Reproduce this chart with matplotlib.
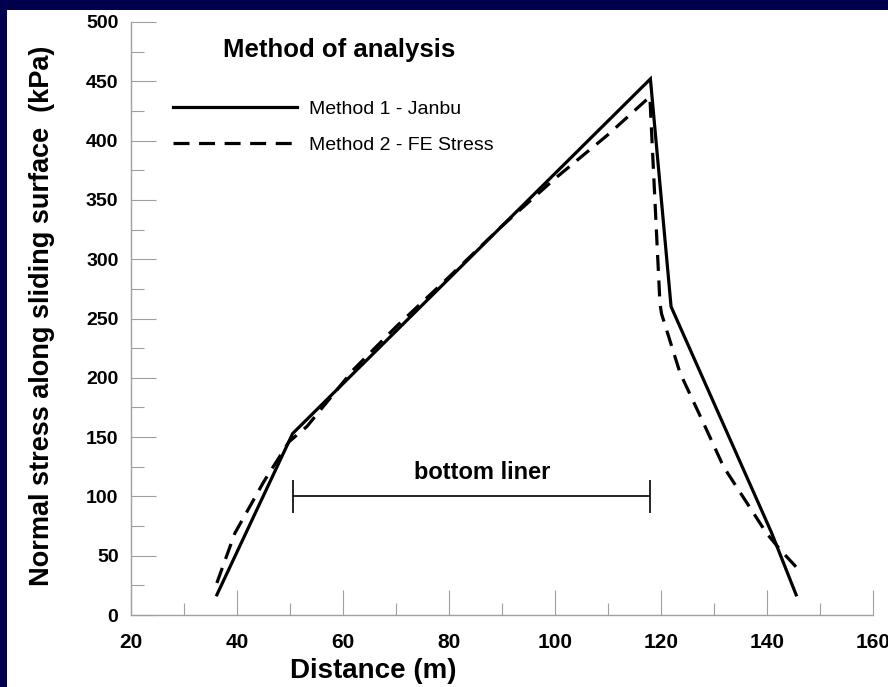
import matplotlib
matplotlib.use('Agg')
import matplotlib.pyplot as plt
from matplotlib.ticker import MultipleLocator
from matplotlib.patches import Rectangle

# Normal stress along the sliding surface, two methods
dist_janbu = [36.2, 50.5, 118.0, 121.9, 140.8, 145.5]
stress_janbu = [17, 153, 452, 260, 70, 17]

dist_fe = [36.2, 39.6, 45.0, 49.8, 53.2, 62.0, 70.0, 80.0, 90.0, 100.0, 110.0,
           117.9, 119.8, 120.1, 123.6, 128.0, 131.8, 139.9, 142.5, 145.6]
stress_fe = [27, 69, 112, 146, 159, 207, 243, 285, 328, 368, 405,
             437, 263, 254, 204, 162, 125, 69, 55, 40]

# extent of the bottom liner
liner_x = [50.6, 117.9]
liner_y = 100

navy = '#00004c'
gray = '#a0a0a0'
font = 'Liberation Sans'

plt.rcParams['font.family'] = font
plt.rcParams['font.weight'] = 'bold'

fig = plt.figure(figsize=(8.88, 6.87), dpi=100, facecolor=navy)
# white slide panel behind the axes
fig.patches.append(Rectangle((7 / 888, 0), 1, 1 - 10 / 687, transform=fig.transFigure,
                             facecolor='white', edgecolor='none', zorder=-10))

ax = fig.add_axes([131 / 888, 1 - 615 / 687, 742 / 888, 593 / 687])
ax.set_facecolor('none')

ax.plot(dist_janbu, stress_janbu, color='black', lw=2.3, label='Method 1 - Janbu',
        solid_joinstyle='miter')
ax.plot(dist_fe, stress_fe, color='black', lw=2.3, linestyle=(0, (5, 3)),
        label='Method 2 - FE Stress')

# bottom liner bracket
ax.hlines(liner_y, liner_x[0], liner_x[1], color='black', lw=1.2)
ax.vlines(liner_x, liner_y - 14, liner_y + 14, color='black', lw=1.2)
ax.text(86.2, 120.5, 'bottom liner', ha='center', va='center',
        fontsize=17, fontweight='bold')

ax.set_xlim(20, 160)
ax.set_ylim(0, 500)
ax.xaxis.set_major_locator(MultipleLocator(20))
ax.xaxis.set_minor_locator(MultipleLocator(10))
ax.yaxis.set_major_locator(MultipleLocator(50))
ax.yaxis.set_minor_locator(MultipleLocator(25))

for s in ['top', 'right']:
    ax.spines[s].set_visible(False)
for s in ['left', 'bottom']:
    ax.spines[s].set_color(gray)
    ax.spines[s].set_linewidth(1)

ax.tick_params(which='major', direction='in', length=18, width=0.8, color=gray)
ax.tick_params(which='minor', direction='in', length=9, width=0.8, color=gray)
ax.tick_params(axis='y', which='major', pad=9, labelsize=14)
ax.tick_params(axis='x', which='major', pad=13, labelsize=15)

ax.set_xlabel('Distance (m)', fontsize=20, fontweight='bold', va='center')
ax.xaxis.set_label_coords(0.327, -0.094)
ax.set_ylabel('Normal stress along sliding surface  (kPa)', fontsize=19.5,
              fontweight='bold', va='center')
ax.yaxis.set_label_coords(-0.12, 0.504)

# legend with its heading drawn separately
ax.text(59.2, 476, 'Method of analysis', ha='center', va='center',
        fontsize=18.5, fontweight='bold')
ax.legend(loc='upper left', bbox_to_anchor=(42 / 742, 1 - 78 / 593), frameon=False,
          prop={'family': font, 'size': 14, 'weight': 'normal'}, handlelength=6.4,
          handletextpad=0.6, labelspacing=0.95, borderpad=0, borderaxespad=0)

fig.savefig('out.png', dpi=100, facecolor=fig.get_facecolor())
